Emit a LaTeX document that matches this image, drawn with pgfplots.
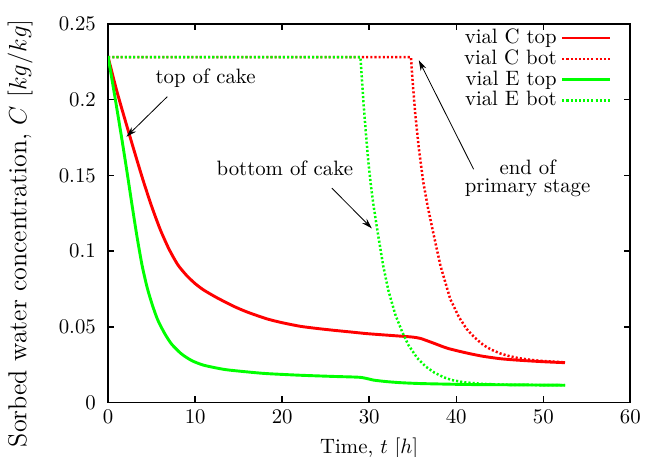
\documentclass[border=0pt]{standalone}
\usepackage{pgfplots}
\pgfplotsset{compat=1.18}
\usetikzlibrary{arrows.meta}
\definecolor{gpred}{RGB}{255,0,0}
\definecolor{gpgreen}{RGB}{0,255,0}
\begin{document}
\begin{tikzpicture}
\begin{axis}[name=ax, scale only axis, width=251pt, height=182pt,
  xmin=0, xmax=60, ymin=0, ymax=0.25,
  xtick={0,10,...,60},
  ytick={0,0.05,0.1,0.15,0.2,0.25},
  yticklabels={0,0.05,0.1,0.15,0.2,0.25},
  yticklabel style={xshift=-2.4pt},
  scaled y ticks=false,
  major tick length=3pt,
  axis line style={line width=0.9pt},
  tick style={line width=0.7pt, black},
  xlabel={Time, $t$ $[h]$},
  ylabel={Sorbed water concentration, $C$ $[kg/kg]$},
  ylabel style={font=\fontsize{12.5}{15}\selectfont, at={(axis description cs:-0.1685,0.447)}, anchor=center},
  legend style={draw=none, fill=none, at={(0.969,1.004)}, anchor=north east,
    row sep=-2.5pt, inner sep=1pt},
  legend cell align=right,
  legend plot pos=right,
  legend image code/.code={\draw[#1] (3pt,0pt) -- (26pt,0pt);},
]
\addplot[gpred, line width=1.4pt, smooth, tension=0.4] coordinates {
(0,0.228) (1,0.2055) (2,0.1855) (3,0.1660) (4,0.1470) (5,0.1295) (6,0.1140)
(7,0.1012) (8,0.0910) (9,0.0840) (10,0.0785) (11,0.0742) (12.5,0.0692)
(14.4,0.0636) (16,0.0597) (18.2,0.0553)
(20,0.0527) (22.1,0.0503) (24,0.0489) (25.9,0.0477) (28,0.0465) (29.7,0.0455)
(32,0.0445) (33.9,0.0437) (35,0.0432) (35.9,0.0423) (37.4,0.0392) (39,0.0358)
(41.2,0.0327) (43,0.0306) (45.1,0.0289) (47,0.0280) (48.9,0.0273) (50.5,0.0268)
(52.5,0.0263)};
\addlegendentry{vial C top}
\addplot[gpred, line width=1.2pt, dash pattern=on 1pt off 1pt] coordinates {
(0,0.228) (34.8,0.228) (35.0,0.211) (35.3,0.190) (35.7,0.168) (36.2,0.146)
(36.7,0.130) (37.4,0.111) (38.2,0.090) (39.3,0.0685) (40.3,0.0565) (41.2,0.0485)
(42.1,0.0430) (43.1,0.0380) (44,0.0350) (45,0.0325) (46,0.0308) (47,0.0295)
(48,0.0286) (49,0.0279) (50,0.0274) (51,0.0270) (52.5,0.0265)};
\addlegendentry{vial C bot}
\addplot[gpgreen, line width=1.4pt, smooth, tension=0.4] coordinates {
(0,0.228) (0.8,0.201) (1.6,0.173) (2.2,0.151) (2.7,0.132) (3.3,0.110) (3.9,0.0905)
(4.5,0.0755) (5.1,0.0640) (5.7,0.0545) (6.5,0.0455) (7.3,0.0385) (8.4,0.0322)
(9.6,0.0277) (11,0.0246) (13.4,0.0218) (16,0.0202) (18.2,0.0191) (22.1,0.0180)
(26,0.0172) (29,0.0166) (30.5,0.0148) (32,0.0138) (33.6,0.0131) (36,0.0125)
(41.2,0.0119) (46,0.0117) (52.5,0.0114)};
\addlegendentry{vial E top}
\addplot[gpgreen, line width=1.2pt, dash pattern=on 1pt off 1pt] coordinates {
(0,0.228) (29.0,0.228) (29.3,0.201) (29.6,0.179) (29.9,0.159) (30.2,0.143)
(30.5,0.130) (30.9,0.115) (31.3,0.101) (31.6,0.0905) (32.2,0.0740) (33.0,0.0580)
(33.8,0.0465) (34.5,0.0380) (35.5,0.0295) (36.5,0.0237) (37.5,0.0197)
(38.5,0.0168) (39.5,0.0148) (41,0.0133) (43,0.0123) (46,0.0117) (52.5,0.0114)};
\addlegendentry{vial E bot}
\node at (axis cs:11.2,0.214) {top of cake};
\draw[-{Stealth[length=5pt,width=3pt]}, line width=0.4pt] (axis cs:6.8,0.202) -- (axis cs:2.1,0.1755);
\node at (axis cs:20.3,0.155) {bottom of cake};
\draw[-{Stealth[length=5pt,width=3pt]}, line width=0.4pt] (axis cs:25.7,0.1416) -- (axis cs:30.3,0.115);
\node[align=center] at (axis cs:48.2,0.148) {end of\\[-3pt]primary stage};
\draw[-{Stealth[length=5pt,width=3pt]}, line width=0.4pt] (axis cs:42.0,0.154) -- (axis cs:35.7,0.226);
\end{axis}
\pgfresetboundingbox
\path ([shift={(-52pt,-26pt)}]ax.south west) rectangle ([shift={(9pt,11.5pt)}]ax.north east);
\end{tikzpicture}
\end{document}
